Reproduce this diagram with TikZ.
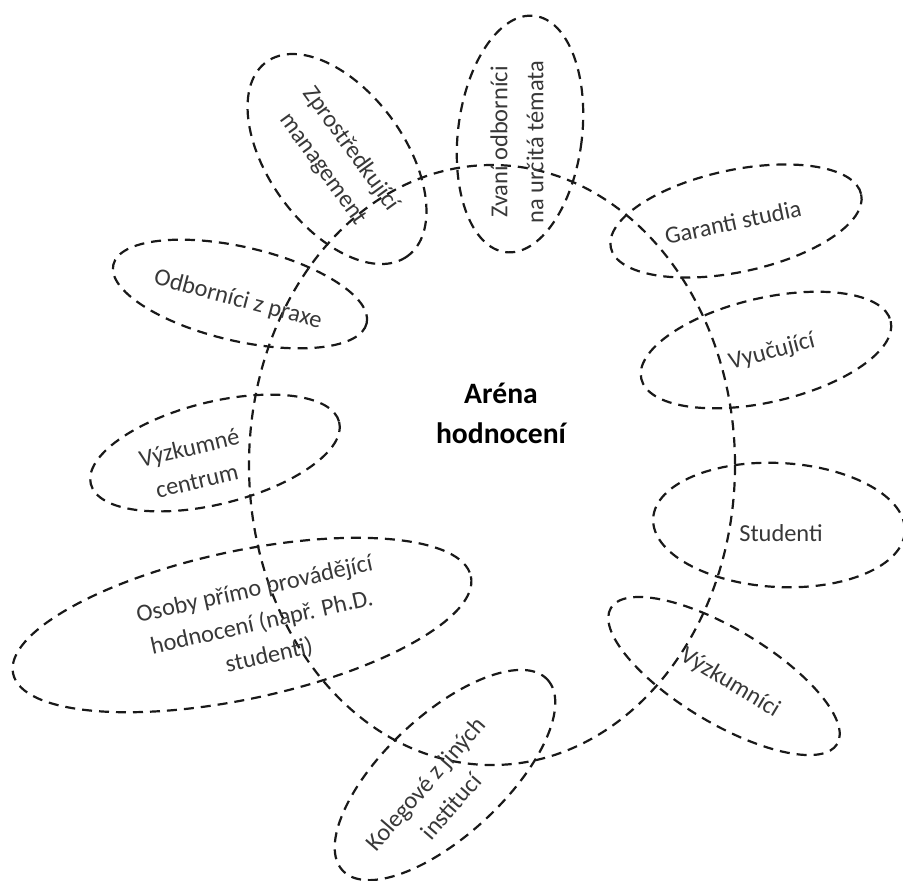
\documentclass[tikz,border=0pt]{standalone}
\usepackage{fontspec}
\setmainfont{Carlito}
\begin{document}
\begin{tikzpicture}[x=0.5pt,y=-0.5pt,
  ring/.style={draw=black!90, line width=1.1pt, dash pattern=on 5pt off 3.5pt},
  lbl/.style={text=black!78, font=\fontsize{12.2}{17}\selectfont, align=center, inner sep=0pt},
  title/.style={text=black, font=\fontsize{14.8}{20}\selectfont\bfseries, align=center, inner sep=0pt}]
\useasboundingbox (0,0) rectangle (903,880);
% arena
\draw[ring] (492,465) ellipse [x radius=243, y radius=300];
% actors
\draw[ring, rotate around={-54:(337,159)}] (337,159) ellipse [x radius=120, y radius=68];
\draw[ring, rotate around={-7:(520,134)}] (520,134) ellipse [x radius=62, y radius=119];
\draw[ring, rotate around={12:(736,221)}] (736,221) ellipse [x radius=128, y radius=51];
\draw[ring, rotate around={13:(766,350)}] (766,350) ellipse [x radius=128, y radius=52];
\draw[ring, rotate around={-3:(779,525)}] (779,525) ellipse [x radius=126, y radius=62];
\draw[ring, rotate around={-31:(724,676)}] (724,676) ellipse [x radius=132, y radius=47];
\draw[ring, rotate around={43:(445,775)}] (445,775) ellipse [x radius=140, y radius=60];
\draw[ring, rotate around={12:(242,625)}] (242,625) ellipse [x radius=234, y radius=74];
\draw[ring, rotate around={14:(215,453)}] (215,453) ellipse [x radius=128, y radius=51];
\draw[ring, rotate around={-13:(240,294)}] (240,294) ellipse [x radius=130, y radius=47];
% labels
\node[title] (arena) at (501,413) {Aréna\\hodnocení};
\node[lbl, rotate=-54] (zpr) at (337,159) {Zprostředkující\\management};
\node[lbl, rotate=90, font=\fontsize{12.2}{18}\selectfont] (zvani) at (517,142) {Zvaní odborníci\\na určitá témata};
\node[lbl, rotate=12] (garanti) at (733,222) {Garanti studia};
\node[lbl, rotate=15] (vyuc) at (772,352) {Vyučující};
\node[lbl] (stud) at (781,533) {Studenti};
\node[lbl, rotate=-31] (vyzk) at (730,683) {Výzkumníci};
\node[lbl, rotate=49] (koleg) at (438,795) {Kolegové z jiných\\institucí};
\node[lbl, rotate=12.5] (osoby) at (262,623) {Osoby přímo provádějící\\hodnocení (např. Ph.D.\\studenti)};
\node[lbl, rotate=13] (centrum) at (193,464) {Výzkumné\\centrum};
\node[lbl, rotate=-15] (praxe) at (238,300) {Odborníci z praxe};
\end{tikzpicture}
\end{document}
